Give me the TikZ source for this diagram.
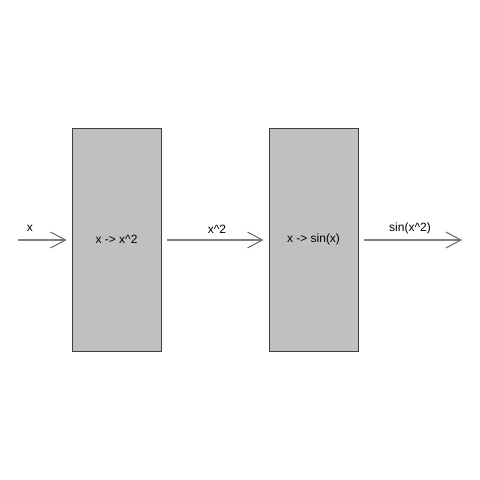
\documentclass[tikz,border=0pt]{standalone}
\usepackage{fontspec}
\setmainfont{Liberation Sans}
\usetikzlibrary{arrows.meta}
\definecolor{boxfill}{HTML}{C0C0C0}
\definecolor{boxline}{HTML}{404040}
\definecolor{arrline}{HTML}{808080}
\tikzset{
  fbox/.style={draw=boxline, line width=1pt, fill=boxfill, minimum width=89pt, minimum height=223pt, inner sep=0pt, font=\fontsize{12}{14}\selectfont},
  flow/.style={draw=arrline, line width=1.3pt, -{Straight Barb[length=15pt,width=16pt,line width=1pt,color=boxline!80]}},
  lbl/.style={font=\fontsize{12}{14}\selectfont, inner sep=0pt}
}
\begin{document}
\begin{tikzpicture}[x=1pt,y=-1pt]
\useasboundingbox[fill=white] (0,0) rectangle (480,480);
\node[fbox] (b1) at (116.5,239.5) {x -> x\^{}2};
\node[fbox] (b2) at (313.5,239.5) {x -> sin(x)};
\coordinate (in) at (18,240);
\coordinate (out) at (462,240);
\draw[flow, shorten >=5pt] (in) -- (b1.west |- in);
\draw[flow, shorten <=5pt, shorten >=5pt] (b1.east |- in) -- (b2.west |- in);
\draw[flow, shorten <=5pt] (b2.east |- in) -- (out);
\node[lbl] (l1) at (30,228) {x};
\node[lbl] (l2) at (217,229) {x\^{}2};
\node[lbl] (l3) at (410,228) {sin(x\^{}2)};
\end{tikzpicture}
\end{document}
